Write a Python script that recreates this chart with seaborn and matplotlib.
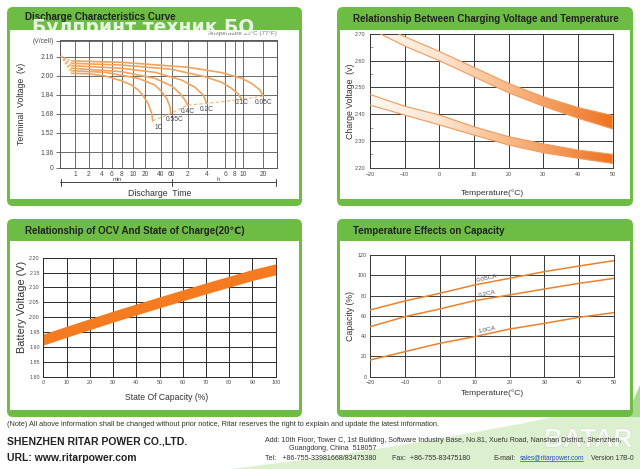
import numpy as np
import pandas as pd
import matplotlib
matplotlib.use("Agg")
import matplotlib.pyplot as plt
import seaborn as sns
from matplotlib.patches import FancyBboxPatch, Rectangle, Polygon
from matplotlib.colors import LinearSegmentedColormap
from matplotlib.ticker import FixedLocator, FixedFormatter, NullLocator, MultipleLocator
import matplotlib.patheffects as pe

# ---------------- data ----------------
# Discharge characteristics (25 C): time in minutes, terminal voltage in V/cell
rate_labels = ["0.05C", "0.1C", "0.2C", "0.4C", "0.55C", "1C"]
t_005C = [0.85, 8, 121, 335, 579, 810, 1082, 1210]
v_005C = [2.124, 2.113, 2.071, 2.026, 1.978, 1.936, 1.880, 1.830]
t_01C = [0.85, 8, 60, 223, 335, 435, 526, 579]
v_01C = [2.104, 2.090, 2.054, 1.992, 1.945, 1.894, 1.846, 1.802]
t_02C = [0.85, 8, 30.8, 91.6, 155, 209, 237]
v_02C = [2.084, 2.063, 2.029, 1.964, 1.903, 1.838, 1.768]
t_04C = [0.85, 8, 30.8, 60, 85.5, 105.6, 118]
v_04C = [2.063, 2.034, 1.978, 1.914, 1.852, 1.796, 1.754]
t_055C = [0.85, 4.6, 13.6, 30.8, 41, 49.6, 56.2, 58.2]
v_055C = [2.042, 2.029, 1.978, 1.922, 1.866, 1.810, 1.740, 1.684]
t_1C = [0.85, 1.93, 4.6, 8, 9.7, 13.6, 18.2, 23.1, 26.8, 27.9]
v_1C = [2.020, 2.017, 1.998, 1.958, 1.922, 1.880, 1.830, 1.763, 1.684, 1.622]
time_ticks_min = [1, 2, 4, 6, 8, 10, 20, 40, 60, 120, 240, 360, 480, 600, 1200]
time_tick_labels = ["1", "2", "4", "6", "8", "10", "20", "40", "60", "2", "4", "6", "8", "10", "20"]
volt_ticks = [1.36, 1.52, 1.68, 1.84, 2.00, 2.16]
volt_tick_labels = ["1.36", "1.52", "1.68", "1.84", "2.00", "2.16"]

# Charging voltage vs temperature
temp_charge = [-20, -10, 0, 10, 20, 30, 40, 50]
cycle_hi = [2.750, 2.690, 2.635, 2.575, 2.515, 2.465, 2.425, 2.395]
cycle_lo = [2.720, 2.655, 2.600, 2.540, 2.480, 2.430, 2.385, 2.345]
float_hi = [2.474, 2.430, 2.397, 2.353, 2.316, 2.289, 2.266, 2.250]
float_lo = [2.434, 2.397, 2.360, 2.322, 2.285, 2.256, 2.235, 2.216]

# OCV vs state of charge
soc = [0, 10, 30, 50, 70, 90, 100]
ocv = [1.925, 1.951, 2.002, 2.050, 2.097, 2.142, 2.161]
ocv_halfband = 0.0185

# Temperature effects on capacity
temp_cap = [-20, -10, 0, 10, 20, 30, 40, 50]
cap_005CA = [65.8, 74.7, 82.2, 90.5, 97.0, 103.6, 109.2, 114.5]
cap_02CA = [49.3, 59.2, 66.8, 75.0, 80.6, 86.5, 92.1, 97.0]
cap_10CA = [16.4, 24.7, 32.9, 39.5, 47.0, 52.6, 58.6, 63.2]
cap_labels = ["0.05CA", "0.2CA", "1.0CA"]

# ---------------- style ----------------
sns.set_theme(style="white")
plt.rcParams["font.family"] = ["Liberation Sans", "DejaVu Sans"]
GREEN = "#6dbd45"
ORANGE_CURVE = "#f1a25c"
ORANGE_LINE = "#e8822e"
GRID = "#3a3a3a"
TXT = "#222222"
TICK = "#4a4a4a"

W, H = 640, 469
fig = plt.figure(figsize=(6.4, 4.69), dpi=100)


def add_ax(x0, y0, x1, y1):
    return fig.add_axes([x0 / W, 1 - y1 / H, (x1 - x0) / W, (y1 - y0) / H])


bg = fig.add_axes([0, 0, 1, 1])
bg.set_xlim(0, W)
bg.set_ylim(H, 0)
bg.axis("off")
bg.set_zorder(-5)

# footer swoosh and faint logo (behind the footer text)
bg.add_patch(Polygon([(230, 469), (640, 469), (640, 398), (600, 407), (520, 424),
                      (420, 442), (320, 458)], closed=True, fc="#dcefcf", ec="none", zorder=0))
bg.add_patch(Polygon([(626, 417), (640, 385), (640, 417)], closed=True, fc="#a9d98d",
                     ec="none", zorder=0))
bg.text(588, 440, "BATAR", fontsize=19, fontweight="bold", color="white", alpha=0.55,
        ha="center", va="center", zorder=0.5,
        path_effects=[pe.withStroke(linewidth=0.8, foreground="#d0d0d0")])


def frame(x0, y0, x1, y1, hdr):
    bg.add_patch(FancyBboxPatch((x0, y0), x1 - x0, y1 - y0,
                                boxstyle="round,pad=0,rounding_size=6",
                                fc=GREEN, ec="none", zorder=1))
    bg.add_patch(Rectangle((x0 + 3, hdr), x1 - x0 - 6, y1 - 6.5 - hdr, fc="white",
                           ec="none", zorder=1.1))


frame(7, 7, 302, 206, 30)
frame(337, 7, 633, 206, 30)
frame(7, 219, 302, 417, 241)
frame(337, 219, 633, 417, 241)

tkw = dict(fontsize=7, fontweight="bold", color=TXT, va="center", zorder=3)
bg.text(25, 17, "Discharge Characteristics Curve", ha="left", **tkw)
bg.text(485.5, 18.5, "Relationship Between Charging Voltage and Temperature", ha="center", **tkw)
bg.text(25, 231.5, "Relationship of OCV And State of Charge(20℃)", ha="left", **tkw)
bg.text(353, 230.5, "Temperature Effects on Capacity", ha="left", **tkw)

# ================= Panel 1: discharge curves =================
ax1 = add_ax(60, 40.5, 276.5, 167.5)
POS_ANCH = [60, 75, 89, 101.7, 111.7, 121.7, 133, 145, 161, 171.7, 188, 207, 225, 235, 243, 263, 276.5]
LOG_ANCH = np.log10([0.48] + time_ticks_min + [1950])


def fwd(t):
    t = np.asarray(t, dtype=float)
    return np.interp(np.log10(np.clip(t, 1e-6, None)), LOG_ANCH, POS_ANCH)


def inv(p):
    return 10 ** np.interp(np.asarray(p, dtype=float), POS_ANCH, LOG_ANCH)


ax1.set_xscale("function", functions=(fwd, inv))
curves_t = [t_005C, t_01C, t_02C, t_04C, t_055C, t_1C]
curves_v = [v_005C, v_01C, v_02C, v_04C, v_055C, v_1C]
df1 = pd.concat([pd.DataFrame({"t": t, "v": v, "rate": r})
                 for t, v, r in zip(curves_t, curves_v, rate_labels)])
sns.lineplot(data=df1, x="t", y="v", hue="rate", palette={r: ORANGE_CURVE for r in rate_labels},
             ax=ax1, legend=False, errorbar=None, linewidth=1.2, zorder=4)
ylo1, yhi1 = 1.230, 2.296
for t, v in zip(curves_t, curves_v):
    ax1.plot([0.5, t[0]], [2.166, v[0]], color="#f3b27e", lw=0.8, ls=(0, (2, 1.5)), zorder=4)
ends_t = [t[-1] for t in curves_t][::-1]
ends_v = [v[-1] for v in curves_v][::-1]
ax1.plot(ends_t, ends_v, color="#f3b27e", lw=0.8, ls=(0, (3, 2)), zorder=3)
lab_off = [(0, -4.8), (0, -2.6), (0, -4.1), (0.4, -4.3), (2.9, -4.1), (4, -5)]
for r, t, v, off in zip(rate_labels, curves_t, curves_v, lab_off):
    ax1.annotate(r, (t[-1], v[-1]), xytext=off, textcoords="offset points",
                 ha="center", va="center", fontsize=4.8, color="#444444", zorder=6)
ax1.set_xlim(0.48, 1950)
ax1.set_ylim(ylo1, yhi1)
ax1.xaxis.set_major_locator(FixedLocator(time_ticks_min))
ax1.xaxis.set_major_formatter(FixedFormatter(time_tick_labels))
ax1.xaxis.set_minor_locator(NullLocator())
ax1.yaxis.set_major_locator(FixedLocator([ylo1] + volt_ticks + [yhi1]))
ax1.yaxis.set_major_formatter(FixedFormatter(["0"] + volt_tick_labels + ["(V/cell)"]))
ax1.grid(True, color="#555555", lw=0.6)
ax1.set_axisbelow(True)
ax1.tick_params(axis="y", direction="out", length=3, width=0.6, color="#555555",
                labelsize=4.9, labelcolor=TICK, pad=1.5, left=True)
ax1.tick_params(axis="x", length=0, labelsize=4.8, labelcolor=TICK, pad=2.2)
for s in ax1.spines.values():
    s.set_color("#555555")
    s.set_linewidth(0.7)
ax1.set_xlabel("")
ax1.set_ylabel("")
# time bracket
bg.plot([60, 276], [182.5, 182.5], color="#444444", lw=0.7, zorder=3)
for xb in (60.5, 171.7, 276):
    bg.plot([xb, xb], [179.5, 186.5], color="#444444", lw=0.7, zorder=3)
bg.text(117.3, 179.6, "min", fontsize=4.2, color=TICK, ha="center", va="center", zorder=3)
bg.text(218, 179.6, "h", fontsize=4.2, color=TICK, ha="center", va="center", zorder=3)
bg.text(160, 193.3, "Discharge  Time", fontsize=6.3, color="#333333", ha="center",
        va="center", zorder=3)
bg.text(21.3, 103.5, "Terminal  Voltage  (v)", fontsize=6.3, color="#333333", ha="center",
        va="center", rotation=90, zorder=3)
bg.text(277, 34, "Temperature 25°C (77°F)", fontsize=4.5, color="#777777", ha="right",
        va="center", zorder=3)

# ================= Panel 2: charging voltage =================
ax2 = add_ax(370, 34, 612.7, 167.7)
cmap = LinearSegmentedColormap.from_list(
    "band", [(0, "#fff7f0"), (0.3, "#fde4ce"), (0.6, "#f8b47f"), (1, "#ee7421")])
grad = np.linspace(0, 1, 256)[None, :]
for hi, lo in ((cycle_hi, cycle_lo), (float_hi, float_lo)):
    poly = ax2.fill_between(temp_charge, lo, hi, facecolor="none", edgecolor="none")
    im = ax2.imshow(grad, extent=[-20, 50, 2.2, 2.8], aspect="auto", cmap=cmap,
                    origin="lower", zorder=2, interpolation="bilinear")
    im.set_clip_path(poly.get_paths()[0], transform=ax2.transData)
    sns.lineplot(x=temp_charge, y=hi, ax=ax2, color="#f09a5c", lw=0.8, zorder=3)
    sns.lineplot(x=temp_charge, y=lo, ax=ax2, color="#f09a5c", lw=0.8, zorder=3)
ax2.set_xlim(-20, 50)
ax2.set_ylim(2.2, 2.7)
ax2.xaxis.set_major_locator(MultipleLocator(10))
ax2.yaxis.set_major_locator(FixedLocator([2.2, 2.3, 2.4, 2.5, 2.6, 2.7]))
ax2.yaxis.set_major_formatter(FixedFormatter(["2.20", "2.30", "2.40", "2.50", "2.60", "2.70"]))
ax2.yaxis.set_minor_locator(MultipleLocator(0.05))
ax2.grid(True, which="major", color=GRID, lw=0.7)
ax2.set_axisbelow(True)
ax2.tick_params(axis="both", which="major", length=0, labelsize=3.9, labelcolor=TICK, pad=3)
ax2.tick_params(axis="y", which="minor", direction="in", length=2.5, width=0.5,
                color="#777777", left=True)
for s in ax2.spines.values():
    s.set_color(GRID)
    s.set_linewidth(0.7)
bg.text(511.7, 70, "Cycle use", fontsize=6.3, color="#333333", ha="left", va="center", zorder=3)
bg.text(511.7, 80, "2.43~2.47VPC@25°C", fontsize=4.6, color="#333333", ha="left",
        va="center", zorder=3)
bg.text(407.3, 152.3, "Float charging", fontsize=6.3, color="#333333", ha="left",
        va="center", zorder=3)
bg.text(407.3, 161, "2.27~2.30VPC@25°C", fontsize=4.6, color="#333333", ha="left",
        va="center", zorder=3)
bg.text(350.7, 101, "Charge Voltage  (v)", fontsize=6.3, color="#333333", ha="center",
        va="center", rotation=90, zorder=3)
bg.text(492, 192.7, "Temperature(°C)", fontsize=6.1, color="#333333", ha="center",
        va="center", zorder=3)

# ================= Panel 3: OCV vs SOC =================
ax3 = add_ax(43.3, 257.7, 275.7, 376.7)
ocv_arr = np.array(ocv)
ax3.fill_between(soc, ocv_arr - ocv_halfband, ocv_arr + ocv_halfband,
                 color="#f47b20", lw=0, zorder=3)
ax3.set_xlim(0, 100)
ax3.set_ylim(1.8, 2.2)
ax3.xaxis.set_major_locator(MultipleLocator(10))
ax3.yaxis.set_major_locator(FixedLocator(np.arange(1.8, 2.2001, 0.05)))
ax3.yaxis.set_major_formatter(FixedFormatter(["1.80", "1.85", "1.90", "1.95", "2.00",
                                              "2.05", "2.10", "2.15", "2.20"]))
ax3.grid(True, color="#2a2a2a", lw=0.7)
ax3.set_axisbelow(True)
ax3.tick_params(axis="both", length=0, labelsize=3.9, labelcolor=TICK, pad=2.5)
for s in ax3.spines.values():
    s.set_color("#2a2a2a")
    s.set_linewidth(0.7)
bg.text(21.7, 306.7, "Battery Voltage (V)", fontsize=7.8, color="#333333", ha="center",
        va="center", rotation=90, zorder=3)
bg.text(166.7, 397.3, "State Of Capacity (%)", fontsize=6.2, color="#333333", ha="center",
        va="center", zorder=3)

# ================= Panel 4: capacity vs temperature =================
ax4 = add_ax(370, 255, 614.3, 376.7)
df4 = pd.concat([pd.DataFrame({"T": temp_cap, "cap": c, "rate": r})
                 for c, r in zip([cap_005CA, cap_02CA, cap_10CA], cap_labels)])
sns.lineplot(data=df4, x="T", y="cap", hue="rate", palette={r: ORANGE_LINE for r in cap_labels},
             ax=ax4, legend=False, errorbar=None, linewidth=1.1, zorder=3)
for r, c in zip(cap_labels, [cap_005CA, cap_02CA, cap_10CA]):
    ax4.annotate(r, (13.5, np.interp(13.5, temp_cap, c)), xytext=(0, 3.3),
                 textcoords="offset points", ha="center", va="center",
                 fontsize=4.6, color="#555555", rotation=12)
ax4.set_xlim(-20, 50)
ax4.set_ylim(0, 120)
ax4.xaxis.set_major_locator(MultipleLocator(10))
ax4.yaxis.set_major_locator(MultipleLocator(20))
ax4.grid(True, color=GRID, lw=0.7)
ax4.set_axisbelow(True)
ax4.tick_params(axis="both", length=0, labelsize=3.9, labelcolor=TICK, pad=2.5)
for s in ax4.spines.values():
    s.set_color(GRID)
    s.set_linewidth(0.7)
ax4.set_xlabel("")
ax4.set_ylabel("")
bg.text(350.7, 316, "Capacity (%)", fontsize=6.3, color="#333333", ha="center",
        va="center", rotation=90, zorder=3)
bg.text(492.3, 392.7, "Temperature(°C)", fontsize=6.1, color="#333333", ha="center",
        va="center", zorder=3)

# ================= Footer =================
bg.text(7, 424, "(Note) All above information shall be changed without prior notice, Ritar reserves "
        "the right to explain and update the latest information.",
        fontsize=5.3, color="#333333", ha="left", va="center", zorder=3)
bg.text(7, 441, "SHENZHEN RITAR POWER CO.,LTD.", fontsize=7.5, fontweight="bold",
        color="#222222", ha="left", va="center", zorder=3)
bg.text(7, 458, "URL: www.ritarpower.com", fontsize=7.5, fontweight="bold",
        color="#222222", ha="left", va="center", zorder=3)
fkw = dict(fontsize=5.1, color="#333333", ha="left", va="center", zorder=3)
bg.text(265, 440, "Add: 10th Floor, Tower C, 1st Building, Software Industry Base, No.81, "
        "Xuefu Road, Nanshan District, Shenzhen,", **fkw)
bg.text(289, 449, "Guangdong, China  518057", **fkw)
bg.text(265, 458, "Tel:   +86-755-33981668/83475380", **fkw)
bg.text(392, 458, "Fax:  +86-755-83475180", **fkw)
bg.text(493, 458, "E-mail:", **fkw)
bg.text(520, 458, "sales@ritarpower.com", fontsize=4.7, color="#2050c8", ha="left",
        va="center", zorder=3)
bg.plot([520, 583], [461.5, 461.5], color="#2050c8", lw=0.5, zorder=3)
bg.text(591, 458, "Version 17B-0", fontsize=4.9, color="#333333", ha="left", va="center",
        zorder=3)

# watermark over panel 1
fig.text(143 / W, 1 - 33 / H, "Булпринт техник БО", fontsize=13.5, fontweight="bold",
         color="white", alpha=0.85, ha="center", va="baseline", zorder=20,
         family=["DejaVu Sans"])

fig.savefig("out.png", dpi=100)
